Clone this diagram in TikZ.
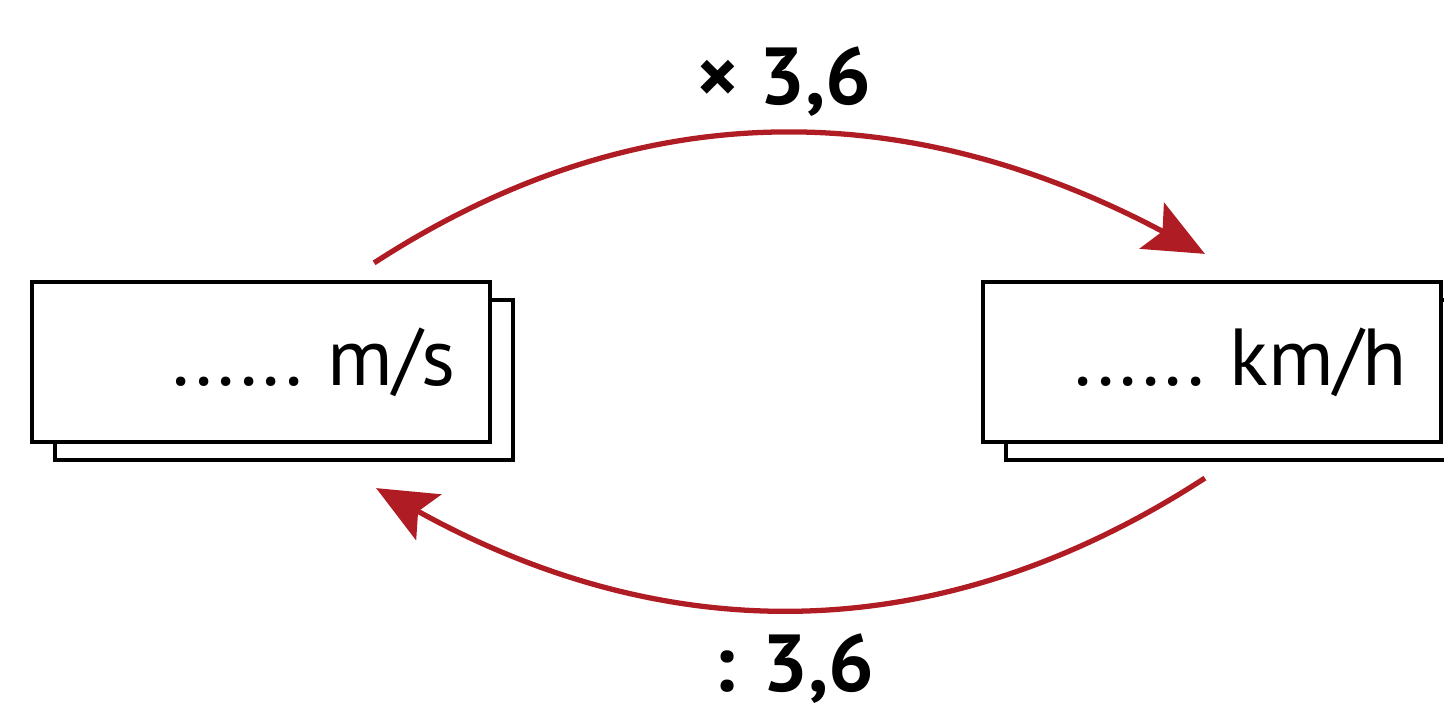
\documentclass[tikz,border=0pt]{standalone}
\usepackage{fontspec}
\setmainfont{PT Sans}
\usepackage{tikz}
\usetikzlibrary{shadows,arrows.meta}
\definecolor{arcred}{RGB}{176,28,36}

\begin{document}
\begin{tikzpicture}[
  card/.style={draw=black, fill=white, line width=1.2pt,
    minimum width=4.58cm, minimum height=1.6cm, text width=3.9cm,
    align=right, inner xsep=0.34cm, font=\fontsize{23}{27}\selectfont,
    copy shadow={shadow xshift=0.23cm, shadow yshift=-0.18cm}},
  conv/.style={arcred, line width=1.5pt,
    -{Stealth[length=0.6cm, width=0.52cm, inset=0.12cm]}},
  factor/.style={inner sep=0pt, font=\fontsize{23}{27}\selectfont\bfseries}
]
\useasboundingbox (0,0) rectangle (14.44,7.16);

% The two speed cards
\node[card] (ms) at (2.61, 3.54) {......\hspace{0.25cm}m/s};
\node[card] (kmh) at (12.12, 3.54) {......\hspace{0.25cm}km/h};

% Conversion arcs
\draw[conv] ([xshift=-1.18cm, yshift=0.17cm]ms.north east)
  to[out=33, in=152] ([xshift=2.24cm, yshift=0.26cm]kmh.north west);
\draw[conv] ([xshift=2.24cm, yshift=-0.34cm]kmh.south west)
  to[out=-147, in=-29] ([xshift=-1.16cm, yshift=-0.44cm]ms.south east);

% Factors
\node[factor, anchor=base] (times) at (7.84, 6.11) {× 3,6};
\node[factor, anchor=base] (divide) at (7.94, 0.25) {: 3,6};

\end{tikzpicture}
\end{document}
